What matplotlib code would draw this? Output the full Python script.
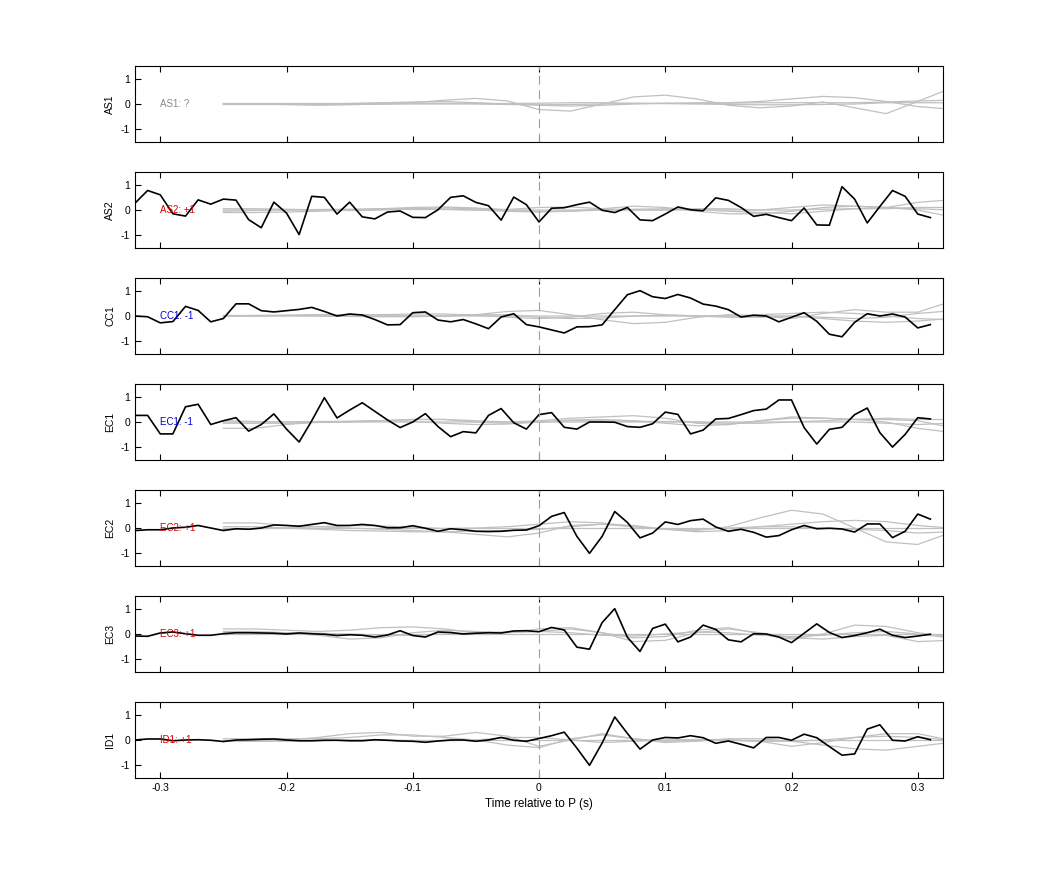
import numpy as np
import matplotlib.pyplot as plt

plt.rcParams['font.family'] = ['Liberation Sans', 'DejaVu Sans']
plt.rcParams['axes.unicode_minus'] = False

# black traces sampled every 10 ms from -0.32 to 0.31 s
t_black = np.round(np.arange(-0.32, 0.315, 0.01), 3)
# grey traces sampled every 25 ms from -0.25 s
t_grey = np.round(np.arange(-0.25, 0.33, 0.025), 3)

stations = ["AS1", "AS2", "CC1", "EC1", "EC2", "EC3", "ID1"]
polarity = ["?", "+1", "-1", "-1", "+1", "+1", "+1"]
pol_colors = {"?": "#888888", "+1": "#e00000", "-1": "#0000d0"}

black = {
    "AS1": None,
    "AS2": [0.27, 0.77, 0.6, -0.15, -0.24, 0.4, 0.23, 0.43, 0.39, -0.38, -0.7, 0.31, -0.12, -0.97,
            0.54, 0.5, -0.16, 0.31, -0.27, -0.35, -0.08, -0.04, -0.29, -0.3, 0.01, 0.5, 0.56, 0.3,
            0.17, -0.4, 0.51, 0.21, -0.47, 0.07, 0.09, 0.21, 0.31, -0.01, -0.1, 0.1, -0.39, -0.42,
            -0.16, 0.12, 0.01, -0.03, 0.48, 0.38, 0.1, -0.25, -0.17, -0.3, -0.42, 0.08, -0.59, -0.6,
            0.92, 0.43, -0.51, 0.14, 0.77, 0.54, -0.16, -0.3],
    "CC1": [0.0, -0.03, -0.27, -0.22, 0.38, 0.22, -0.23, -0.1, 0.48, 0.48, 0.21, 0.16, 0.21, 0.26,
            0.34, 0.18, 0.0, 0.08, 0.04, -0.14, -0.35, -0.34, 0.13, 0.16, -0.16, -0.23, -0.14, -0.31,
            -0.5, -0.04, 0.09, -0.34, -0.43, -0.55, -0.67, -0.43, -0.42, -0.35, 0.25, 0.84, 1.0, 0.76,
            0.69, 0.85, 0.71, 0.47, 0.39, 0.25, -0.04, 0.03, 0.0, -0.23, -0.05, 0.13, -0.21, -0.72,
            -0.82, -0.25, 0.09, 0.0, 0.08, -0.04, -0.47, -0.34],
    "EC1": [0.26, 0.26, -0.47, -0.47, 0.6, 0.7, -0.1, 0.05, 0.17, -0.36, -0.1, 0.32, -0.28, -0.79,
            0.05, 0.96, 0.16, 0.47, 0.76, 0.42, 0.08, -0.22, 0.0, 0.33, -0.18, -0.58, -0.38, -0.43,
            0.26, 0.53, -0.03, -0.28, 0.29, 0.37, -0.21, -0.28, 0.0, 0.0, -0.01, -0.18, -0.21, -0.07,
            0.39, 0.3, -0.47, -0.32, 0.12, 0.14, 0.29, 0.45, 0.51, 0.87, 0.87, -0.22, -0.87, -0.29,
            -0.21, 0.29, 0.55, -0.42, -0.99, -0.49, 0.17, 0.12],
    "EC2": [-0.1, -0.07, -0.07, 0.0, 0.03, 0.1, 0.0, -0.1, -0.03, -0.05, 0.0, 0.12, 0.1, 0.07,
            0.14, 0.21, 0.1, 0.1, 0.14, 0.1, 0.01, 0.01, 0.09, -0.01, -0.13, -0.03, -0.07, -0.13,
            -0.14, -0.13, -0.09, -0.08, 0.09, 0.46, 0.61, -0.33, -1.0, -0.33, 0.65, 0.22, -0.39, -0.2,
            0.24, 0.14, 0.29, 0.35, 0.04, -0.13, -0.05, -0.17, -0.36, -0.3, -0.07, 0.1, -0.03, -0.01,
            -0.04, -0.16, 0.16, 0.16, -0.38, -0.13, 0.55, 0.35],
    "EC3": [-0.08, -0.09, 0.04, 0.08, 0.01, -0.05, -0.05, 0.01, 0.05, 0.05, 0.04, 0.03, 0.0, 0.04,
            0.01, -0.01, -0.06, -0.03, -0.05, -0.12, -0.04, 0.13, -0.06, -0.12, 0.08, 0.06, 0.0, 0.03,
            0.05, 0.04, 0.12, 0.13, 0.09, 0.26, 0.16, -0.52, -0.6, 0.45, 1.0, -0.13, -0.69, 0.22,
            0.39, -0.31, -0.12, 0.35, 0.18, -0.23, -0.31, 0.01, 0.0, -0.12, -0.34, 0.03, 0.4, 0.06,
            -0.14, -0.06, 0.05, 0.19, -0.05, -0.14, -0.08, -0.01],
    "ID1": [0.0, 0.04, 0.04, -0.03, 0.0, 0.01, -0.01, -0.06, 0.0, 0.01, 0.03, 0.04, 0.0, -0.03,
            -0.03, -0.01, -0.01, -0.03, -0.03, 0.01, -0.01, -0.04, -0.05, -0.09, -0.04, 0.0, 0.0, -0.05,
            0.0, 0.1, -0.01, -0.05, 0.06, 0.17, 0.31, -0.32, -1.0, -0.12, 0.91, 0.26, -0.36, 0.0,
            0.1, 0.08, 0.17, 0.09, -0.13, -0.04, -0.17, -0.31, 0.1, 0.1, -0.01, 0.23, 0.09, -0.26,
            -0.6, -0.55, 0.43, 0.6, -0.01, -0.04, 0.13, 0.01],
}

# grey synthetic traces (24 samples each, -0.25 .. 0.325 s)
grey = {
    "AS1": [
        [0, 0, -0.02, -0.05, -0.03, 0, 0.05, 0.15, 0.22, 0.12, -0.22, -0.28, 0.0, 0.28, 0.35, 0.2, -0.05, -0.15, -0.08, 0.08, -0.15, -0.38, 0.1, 0.6],
        [0, 0, 0, 0, 0.02, 0.05, 0.08, 0.1, 0.05, 0, -0.05, -0.08, -0.05, 0, 0.03, 0.05, 0.05, 0.1, 0.2, 0.3, 0.25, 0.1, -0.1, -0.2],
        [0.02, 0.02, 0.02, 0.02, 0.02, 0.03, 0.03, 0.03, 0.02, 0.02, 0.03, 0.05, 0.05, 0.03, 0.02, 0.02, 0.03, 0.05, 0.05, 0.05, 0.05, 0.08, 0.12, 0.15],
        [-0.02, -0.02, -0.02, -0.02, -0.01, -0.01, 0, 0, 0, -0.02, -0.03, -0.02, 0, 0.02, 0.02, 0, -0.02, -0.03, -0.03, -0.02, 0, 0.05, 0.05, 0.05],
    ],
    "AS2": [
        [-0.1, -0.1, -0.08, -0.05, 0, 0.05, 0.1, 0.12, 0.08, 0, -0.05, -0.05, 0.05, 0.15, 0.1, -0.05, -0.15, -0.15, -0.05, 0.1, 0.15, 0.1, 0.05, 0.0],
        [0.05, 0.05, 0.03, 0, -0.02, 0, 0.05, 0.08, 0.05, 0.02, 0.1, 0.12, 0.05, 0, 0, 0.05, 0.05, 0, 0.1, 0.2, 0.15, 0.1, 0.3, 0.4],
        [-0.05, -0.02, 0, 0.02, 0.03, 0.05, 0.05, 0.03, 0, -0.05, -0.08, -0.05, 0, 0.03, 0.05, 0.02, -0.05, -0.1, -0.15, -0.05, 0.05, 0.1, 0.0, -0.25],
        [0, 0, 0, 0, 0, 0.02, 0.02, 0.02, 0, 0, 0, 0, 0, 0, 0, 0, 0, 0, 0, 0.03, 0.05, 0.05, 0.1, 0.1],
    ],
    "CC1": [
        [0, 0, 0.02, 0.05, 0.05, 0.03, 0, 0, 0.05, 0.18, 0.22, 0.05, -0.15, -0.3, -0.25, -0.05, 0.05, 0.0, -0.1, 0.1, 0.25, 0.15, 0.15, 0.55],
        [0, 0.02, 0.03, 0.05, 0.05, 0.05, 0.08, 0.08, 0.03, -0.05, -0.1, -0.05, 0.1, 0.15, 0.05, 0, 0, 0.05, 0.1, 0.15, 0.1, 0, -0.1, -0.15],
        [0, 0, 0, 0, 0, 0, 0, 0, 0, 0, 0, 0, 0, 0, 0, 0, 0, 0, 0, -0.05, -0.1, -0.05, 0.1, 0.2],
        [0.02, 0.02, 0.02, 0, -0.02, -0.03, -0.03, 0, 0.05, 0.05, -0.05, -0.1, -0.08, 0, 0.03, 0, -0.05, -0.05, 0, -0.1, -0.2, -0.25, -0.2, -0.1],
    ],
    "EC1": [
        [-0.25, -0.25, -0.1, 0, 0.02, 0.05, 0.1, 0.1, 0.05, 0.0, 0.05, 0.15, 0.2, 0.25, 0.15, -0.05, -0.1, 0.05, 0.2, 0.15, 0.1, 0.0, -0.25, -0.4],
        [-0.05, -0.05, -0.05, -0.02, 0, 0.05, 0.1, 0.1, 0, -0.05, 0, 0.08, 0.1, 0.05, -0.05, -0.15, -0.1, 0.05, 0.15, 0.15, 0.1, 0.1, 0.05, -0.2],
        [0, 0, 0, 0, 0, 0, 0, 0, 0, 0, 0, 0, 0, 0, 0, 0, 0, 0, 0, 0, 0, -0.05, -0.1, -0.05],
        [0.05, 0.02, 0, 0.02, 0.03, 0.05, 0.03, -0.05, -0.1, -0.08, 0, 0.05, 0.05, 0.03, 0.02, 0, -0.05, -0.05, 0, 0.05, 0.1, 0.15, 0.1, 0.1],
    ],
    "EC2": [
        [0.2, 0.2, 0.1, 0.05, 0, -0.05, -0.1, -0.15, -0.25, -0.35, -0.2, 0.1, 0.15, 0.05, -0.05, -0.1, 0.05, 0.4, 0.7, 0.55, 0.0, -0.55, -0.65, -0.2],
        [0.05, 0.05, 0.0, -0.05, -0.1, -0.12, -0.15, -0.15, -0.12, -0.1, -0.05, 0.05, 0.15, 0.1, -0.05, -0.15, -0.1, 0.05, 0.15, 0.25, 0.3, 0.25, 0.1, 0.0],
        [0, 0, 0, 0, 0, 0, 0, 0, 0, 0, 0, 0, 0, 0, 0, 0, 0, 0, 0, 0, 0, 0, 0, 0],
        [-0.05, -0.03, 0, 0.05, 0.1, 0.08, 0.03, -0.02, 0, 0.05, 0.15, 0.25, 0.2, 0.05, -0.05, -0.05, 0, 0.05, 0.05, 0, -0.05, -0.1, -0.2, -0.15],
    ],
    "EC3": [
        [0.2, 0.2, 0.15, 0.1, 0.15, 0.25, 0.28, 0.2, 0.05, 0.05, 0.2, 0.25, 0.05, -0.15, -0.1, 0.15, 0.25, 0.0, -0.2, 0.0, 0.35, 0.3, 0.05, -0.1],
        [0.1, 0.1, 0.05, -0.05, -0.2, -0.15, 0.05, 0.15, 0.1, 0.05, 0.1, 0.2, 0.05, -0.3, -0.25, 0.05, 0.2, 0.05, -0.15, -0.2, -0.1, -0.05, -0.3, -0.25],
        [0, 0, 0, 0, 0, 0, 0, 0, 0, 0, 0, 0, 0, 0, 0, 0, 0, 0, 0, 0, 0, 0, 0, 0],
        [0.05, 0.05, 0.05, 0.03, 0, -0.05, -0.05, 0, 0.05, 0.08, 0.1, 0.05, -0.05, -0.08, 0, 0.08, 0.05, -0.05, -0.1, -0.05, 0.05, 0.1, 0.0, -0.15],
    ],
    "ID1": [
        [-0.05, -0.05, 0.0, 0.1, 0.25, 0.3, 0.15, 0.15, 0.3, 0.15, -0.25, 0.0, 0.25, 0.05, -0.05, 0.0, 0.0, -0.05, -0.25, -0.1, 0.1, 0.25, 0.25, 0.0],
        [0.05, 0.05, 0.05, 0.05, 0.1, 0.2, 0.2, 0.1, 0.0, -0.2, -0.3, 0.05, 0.2, 0.05, -0.1, -0.05, 0.05, 0.05, -0.05, -0.2, -0.35, -0.4, -0.25, -0.1],
        [0, 0, 0, 0, 0, 0, 0, 0, 0, 0, 0, 0, 0, 0, 0, 0, 0, 0, 0, 0, 0, 0, 0, 0],
        [-0.05, -0.05, -0.05, -0.03, 0, 0, -0.02, -0.03, 0, 0.1, 0.1, 0.0, -0.1, -0.05, 0, 0.02, 0, -0.05, -0.05, 0, 0.1, 0.15, 0.1, 0.0],
    ],
}

fig = plt.figure(figsize=(10.42, 8.75), dpi=100)
left, width = 135 / 1042, 808 / 1042
tops = [66, 172, 278, 384, 490, 596, 702]
h = 76 / 875

for i, st in enumerate(stations):
    ax = fig.add_axes([left, 1 - (tops[i] + 76) / 875, width, h])
    for g in grey[st]:
        ax.plot(t_grey, g, color="#c0c0c0", lw=0.9)
    if black[st] is not None:
        ax.plot(t_black, black[st], color="black", lw=1.2)
    ax.axvline(0, color="#c09090", lw=0.8, ls=(0, (8, 5)))
    ax.text(-0.3, 0, f"{st}: {polarity[i]}", color=pol_colors[polarity[i]],
            fontsize=7, va="center", ha="left")
    ax.set_xlim(-0.32, 0.32)
    ax.set_ylim(-1.5, 1.5)
    ax.set_yticks([-1, 0, 1])
    ax.set_xticks([-0.3, -0.2, -0.1, 0, 0.1, 0.2, 0.3])
    ax.tick_params(direction="in", labelsize=7.5, length=4, top=True, right=False)
    ax.set_ylabel(st, fontsize=7.5)
    if i < len(stations) - 1:
        ax.set_xticklabels([])
    else:
        ax.set_xticklabels(["-0.3", "-0.2", "-0.1", "0", "0.1", "0.2", "0.3"])
        ax.set_xlabel("Time relative to P (s)", fontsize=8.5)

fig.savefig("out.png", dpi=100)
